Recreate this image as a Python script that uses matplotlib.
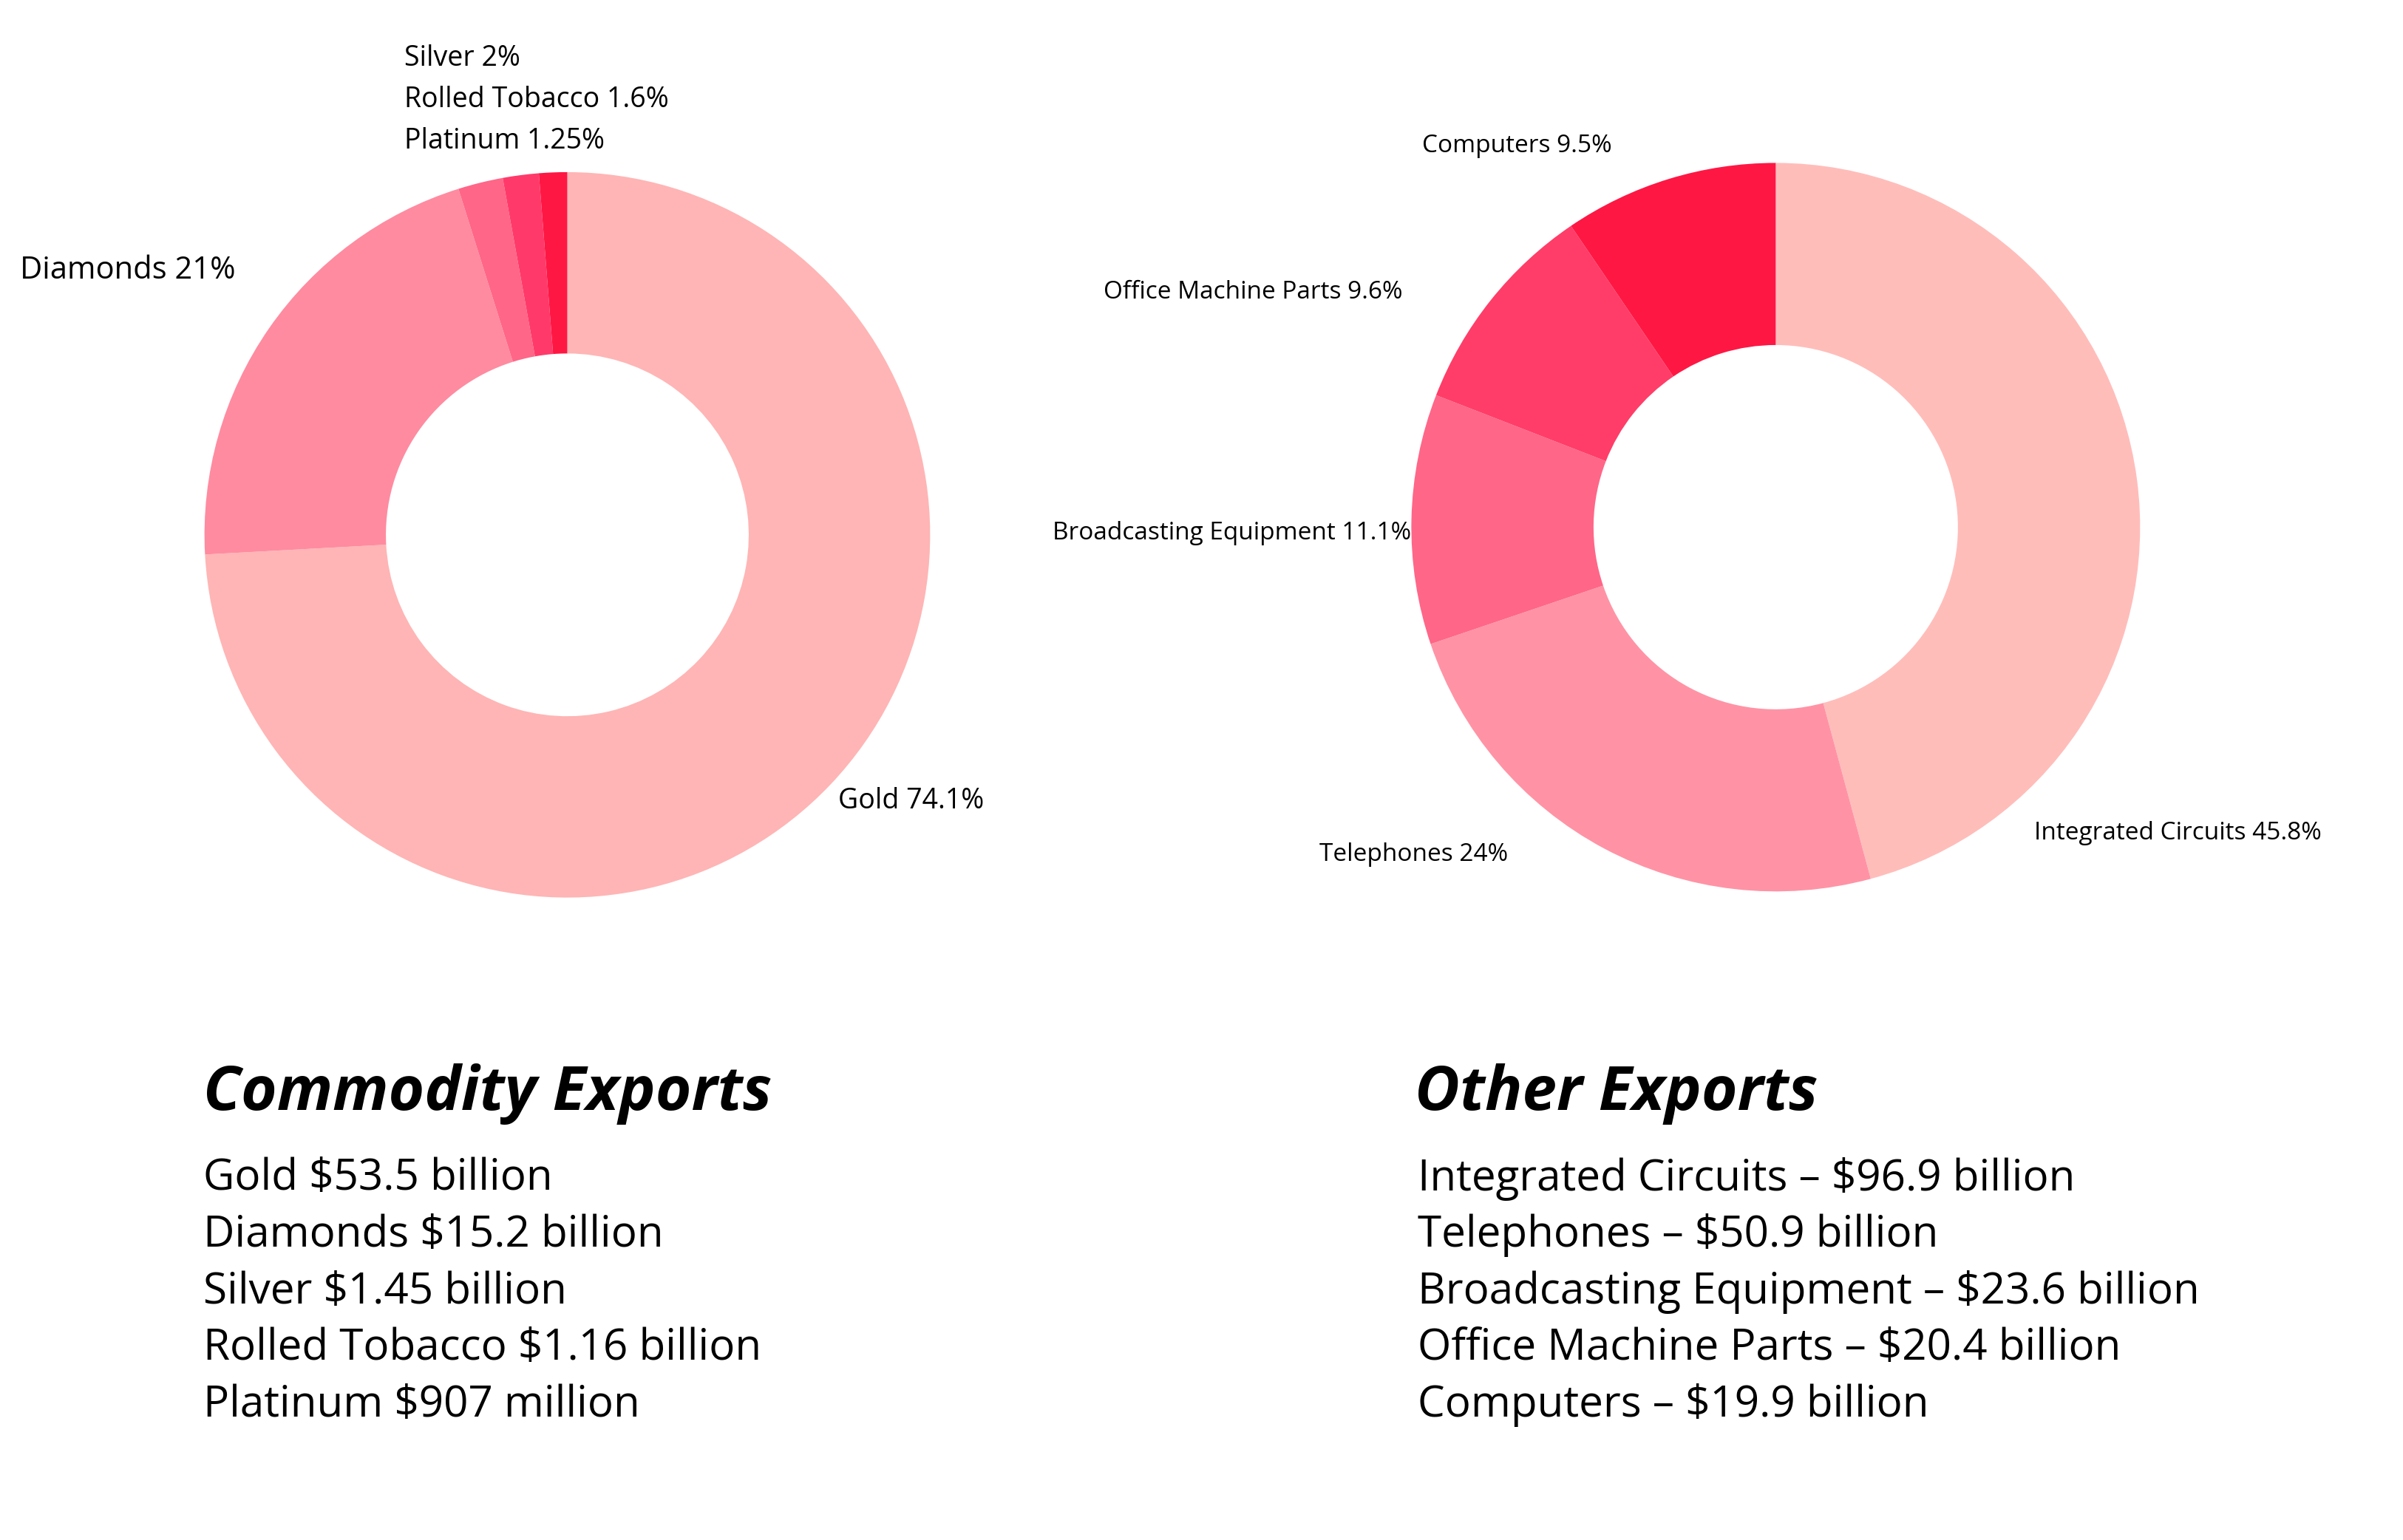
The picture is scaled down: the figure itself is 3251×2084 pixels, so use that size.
import matplotlib
matplotlib.use("Agg")
import matplotlib.pyplot as plt

left_labels = ["Gold", "Diamonds", "Silver", "Rolled Tobacco", "Platinum"]
left_pct = [74.1, 21, 2, 1.6, 1.25]
left_pct_txt = ["74.1%", "21%", "2%", "1.6%", "1.25%"]
left_colors = ["#FFB5B5", "#FF8BA0", "#FF6688", "#FF3A6A", "#FF1744"]

right_labels = ["Integrated Circuits", "Telephones", "Broadcasting Equipment", "Office Machine Parts", "Computers"]
right_pct = [45.8, 24, 11.1, 9.6, 9.5]
right_pct_txt = ["45.8%", "24%", "11.1%", "9.6%", "9.5%"]
right_colors = ["#FFBDBA", "#FF93A5", "#FF6688", "#FF3D68", "#FF1744"]

left_list = ["Gold $53.5 billion", "Diamonds $15.2 billion", "Silver $1.45 billion",
             "Rolled Tobacco $1.16 billion", "Platinum $907 million"]
right_list = ["Integrated Circuits – $96.9 billion", "Telephones – $50.9 billion",
              "Broadcasting Equipment – $23.6 billion", "Office Machine Parts – $20.4 billion",
              "Computers – $19.9 billion"]

W, H = 1563, 1002
fig = plt.figure(figsize=(32.51, 20.84), dpi=100)
plt.rcParams['font.family'] = ['Open Sans', 'DejaVu Sans']

def fx(x): return x / W
def fy(y): return 1 - y / H

def donut(cx, cy, r, vals, colors):
    ax = fig.add_axes([fx(cx - r), fy(cy + r), 2 * r / W, 2 * r / H])
    ax.pie(vals, colors=colors, startangle=90, counterclock=False,
           wedgeprops=dict(width=0.5, linewidth=0))
    ax.set_xlim(-1, 1); ax.set_ylim(-1, 1)
    ax.set_aspect('auto')
    ax.axis('off')

donut(369, 348, 236, left_pct, left_colors)
donut(1155, 343, 237, right_pct, right_colors)

lab = lambda i, L, P: f"{L[i]} {P[i]}"
fs_l = 27
fig.text(fx(545), fy(521), lab(0, left_labels, left_pct_txt), fontsize=fs_l, va='center')
fig.text(fx(13), fy(176), lab(1, left_labels, left_pct_txt), fontsize=fs_l + 3, va='center')
fig.text(fx(263), fy(38), lab(2, left_labels, left_pct_txt), fontsize=fs_l, va='center')
fig.text(fx(263), fy(65), lab(3, left_labels, left_pct_txt), fontsize=fs_l, va='center')
fig.text(fx(263), fy(92), lab(4, left_labels, left_pct_txt), fontsize=fs_l, va='center')

fs_r = 24
fig.text(fx(1323), fy(542), lab(0, right_labels, right_pct_txt), fontsize=fs_r, va='center')
fig.text(fx(858), fy(556), lab(1, right_labels, right_pct_txt), fontsize=fs_r, va='center')
fig.text(fx(918), fy(347), lab(2, right_labels, right_pct_txt), fontsize=fs_r, va='center', ha='right')
fig.text(fx(718), fy(190), lab(3, right_labels, right_pct_txt), fontsize=fs_r, va='center')
fig.text(fx(925), fy(95), lab(4, right_labels, right_pct_txt), fontsize=fs_r, va='center')

fig.text(fx(132), fy(712), "Commodity Exports", fontsize=60, fontweight='bold', fontstyle='italic', va='center')
fig.text(fx(920), fy(712), "Other Exports", fontsize=60, fontweight='bold', fontstyle='italic', va='center')
for i, t in enumerate(left_list):
    fig.text(fx(132), fy(767 + 36.8 * i), t, fontsize=42, va='center')
for i, t in enumerate(right_list):
    fig.text(fx(922), fy(767 + 36.8 * i), t, fontsize=42, va='center')

fig.savefig("out.png", dpi=100, facecolor='white')
